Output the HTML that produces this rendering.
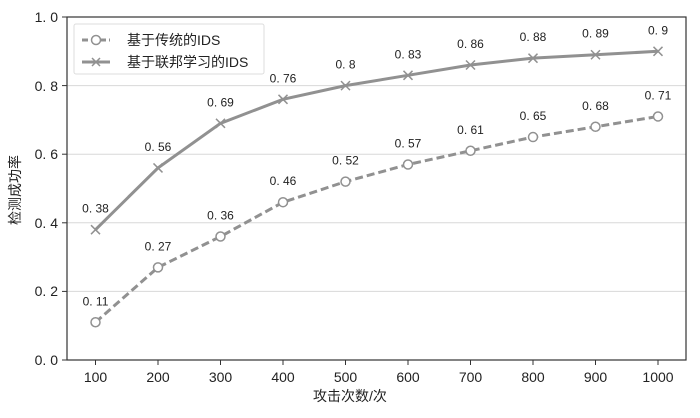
<!DOCTYPE html>
<html><head><meta charset="utf-8"><style>
body{margin:0;background:#fff;}
svg{display:block;font-family:"Liberation Sans","Noto Sans CJK SC",sans-serif;}
</style></head><body>
<svg width="700" height="418" xmlns="http://www.w3.org/2000/svg">
<g stroke="#d8d8d8" stroke-width="1">
<line x1="67" y1="291.4" x2="686" y2="291.4"/>
<line x1="67" y1="222.8" x2="686" y2="222.8"/>
<line x1="67" y1="154.2" x2="686" y2="154.2"/>
<line x1="67" y1="85.6" x2="686" y2="85.6"/>
</g>
<rect x="67" y="17" width="619" height="343" fill="none" stroke="#333" stroke-width="1.2"/>
<g stroke="#333" stroke-width="1">
<line x1="62" y1="360" x2="67" y2="360"/><line x1="62" y1="291.4" x2="67" y2="291.4"/><line x1="62" y1="222.8" x2="67" y2="222.8"/><line x1="62" y1="154.2" x2="67" y2="154.2"/><line x1="62" y1="85.6" x2="67" y2="85.6"/><line x1="62" y1="17" x2="67" y2="17"/>
</g>
<g font-size="14" fill="#222" text-anchor="end">
<text x="58" y="365">0. 0</text><text x="58" y="296">0. 2</text><text x="58" y="228">0. 4</text><text x="58" y="159">0. 6</text><text x="58" y="91">0. 8</text><text x="58" y="22">1. 0</text>
</g>
<g id="xt" font-size="14" fill="#222" text-anchor="middle"></g>
<text x="350" y="401" font-size="14" text-anchor="middle" fill="#222">攻击次数/次</text>
<text transform="translate(20,190) rotate(-90)" font-size="14" text-anchor="middle" fill="#222">检测成功率</text>
<g id="plot"></g>
<rect x="74" y="24" width="190" height="50" fill="#fff" stroke="#ddd" rx="2"/>
<line x1="82" y1="40" x2="110" y2="40" stroke="#919191" stroke-width="3" stroke-dasharray="6,3"/>
<circle cx="96" cy="40" r="4.5" fill="#fff" stroke="#919191" stroke-width="1.5"/>
<line x1="82" y1="62" x2="110" y2="62" stroke="#919191" stroke-width="3"/>
<path d="M92 58 L100 66 M92 66 L100 58" stroke="#919191" stroke-width="1.5"/>
<g font-size="14" fill="#222"><text x="127" y="45">基于传统的IDS</text><text x="127" y="67">基于联邦学习的IDS</text></g>
</svg>
<script>
var A=[.11,.27,.36,.46,.52,.57,.61,.65,.68,.71],B=[.38,.56,.69,.76,.8,.83,.86,.88,.89,.9];
function X(i){return 95.5+62.5*i}function Y(v){return 360-343*v}
var s='',t='';
for(var i=0;i<10;i++){t+='<line x1="'+X(i)+'" y1="360" x2="'+X(i)+'" y2="365" stroke="#333"/><text x="'+X(i)+'" y="382">'+(i+1)*100+'</text>';}
function pts(a){return a.map(function(v,i){return X(i)+','+Y(v)}).join(' ')}
s+='<polyline points="'+pts(A)+'" fill="none" stroke="#919191" stroke-width="3" stroke-dasharray="8,4"/>';
s+='<polyline points="'+pts(B)+'" fill="none" stroke="#919191" stroke-width="3"/>';
for(i=0;i<10;i++){
s+='<circle cx="'+X(i)+'" cy="'+Y(A[i])+'" r="4.5" fill="#fff" stroke="#919191" stroke-width="1.5"/>';
var x=X(i),y=Y(B[i]);
s+='<path d="M'+(x-4.5)+' '+(y-4.5)+' L'+(x+4.5)+' '+(y+4.5)+' M'+(x-4.5)+' '+(y+4.5)+' L'+(x+4.5)+' '+(y-4.5)+'" stroke="#919191" stroke-width="1.5"/>';
s+='<text x="'+x+'" y="'+(Y(A[i])-17)+'" font-size="12" text-anchor="middle" fill="#222">'+String(A[i]).replace('.','. ')+'</text>';
s+='<text x="'+x+'" y="'+(y-17)+'" font-size="12" text-anchor="middle" fill="#222">'+String(B[i]).replace('.','. ')+'</text>';
}
document.getElementById('plot').innerHTML=s;document.getElementById('xt').innerHTML=t;
</script>
</body></html>
